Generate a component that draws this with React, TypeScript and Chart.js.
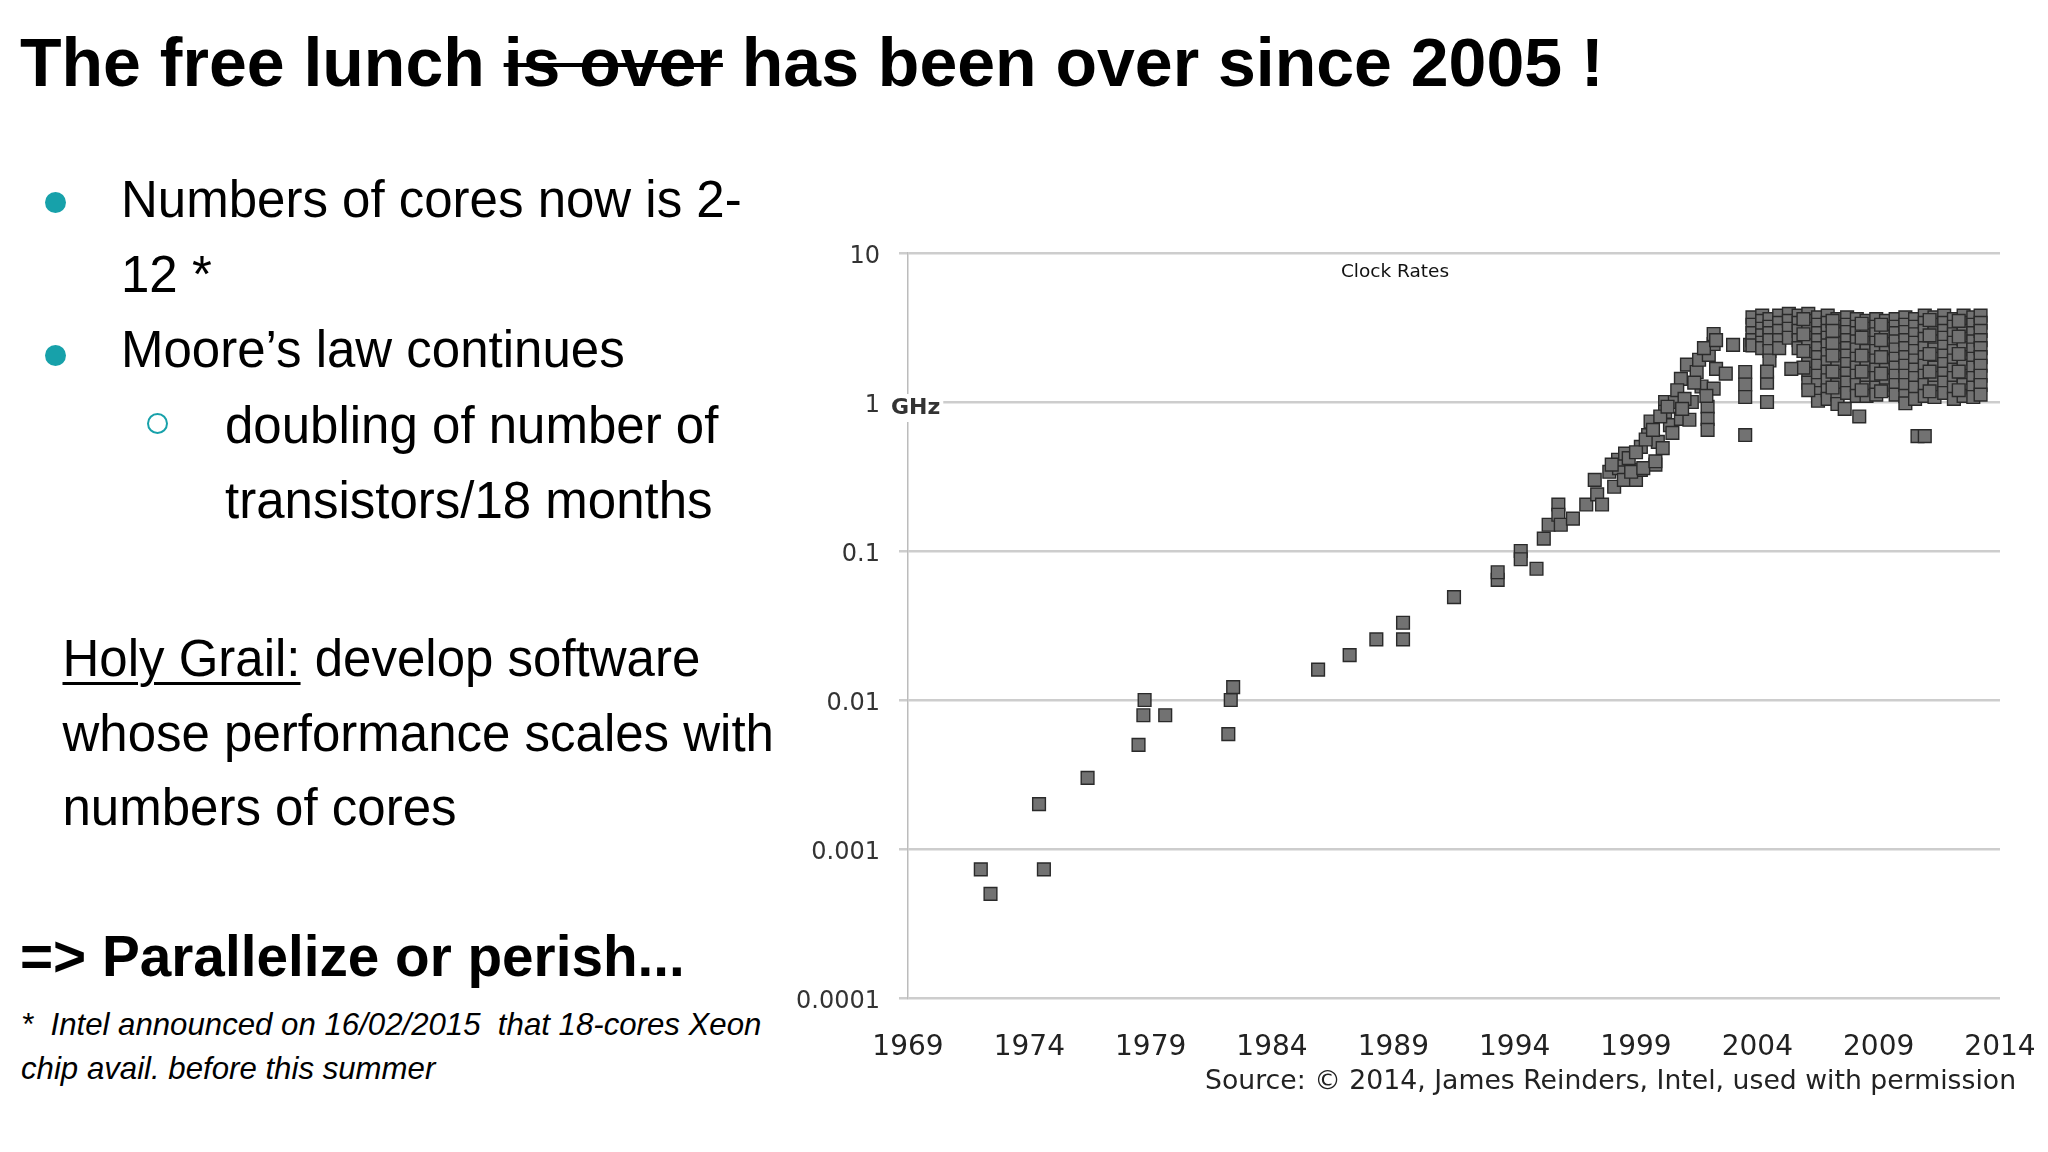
import React, { useEffect, useRef } from "react";
import { Chart, registerables } from "chart.js";

Chart.register(...registerables);

// ---------- chart data ----------
const xTickYears = [1969, 1974, 1979, 1984, 1989, 1994, 1999, 2004, 2009, 2014];
const yTickValues = [0.0001, 0.001, 0.01, 0.1, 1, 10];
const yTickLabels = ["0.0001", "0.001", "0.01", "0.1", "1", "10"];
const unitLabel = "GHz";
const chartTitle = "Clock Rates";
const sourceNote = "Source: \u00A9 2014, James Reinders, Intel, used with permission";

// [year, clock rate in GHz]
const earlyChips: [number, number][] = [
  [1972.0, 0.00073], [1972.4, 0.0005], [1974.4, 0.002], [1974.6, 0.00073],
  [1976.4, 0.003], [1978.5, 0.005], [1978.7, 0.0079], [1978.75, 0.01],
  [1979.6, 0.0079], [1982.2, 0.0059], [1982.3, 0.01], [1982.4, 0.0122],
  [1985.9, 0.016], [1987.2, 0.02], [1988.3, 0.0255], [1989.4, 0.0255],
  [1989.4, 0.033], [1991.5, 0.049], [1993.3, 0.064], [1993.3, 0.072],
];

const riseChips: [number, number][] = [
  [1994.25, 0.1], [1994.25, 0.088], [1994.9, 0.076], [1995.2, 0.121], [1995.4, 0.15],
  [1995.8, 0.205], [1995.8, 0.175], [1995.9, 0.15], [1996.4, 0.165], [1996.95, 0.205],
  [1997.3, 0.3], [1997.4, 0.24], [1997.6, 0.205], [1997.9, 0.34], [1998.1, 0.27],
  [1998.3, 0.36], [1998.5, 0.3], [1999.0, 0.3], [1999.2, 0.35], [1999.8, 0.38],
  [1998.26, 0.41], [1998.55, 0.45], [1998.8, 0.34], [1999.2, 0.5], [1999.3, 0.36],
  [1999.5, 0.6], [1999.6, 0.74], [1999.8, 0.4], [1999.9, 0.54], [2000.1, 0.49],
  [2000.2, 1.0], [2000.2, 0.86], [2000.4, 0.7], [2000.6, 1.0], [2000.85, 1.43],
  [2000.85, 0.77], [2001.2, 0.76], [2001.1, 1.78], [2001.3, 1.0], [2001.5, 1.59],
  [2001.6, 1.92], [2001.7, 1.27], [2001.95, 0.93], [2001.95, 0.77], [2001.95, 0.65],
  [2002.0, 2.07], [2002.2, 1.23], [2002.2, 2.45], [2002.2, 2.86], [2002.3, 1.67],
  [2002.7, 1.55], [2003.0, 2.42], [2003.5, 1.59], [2003.5, 1.31], [2003.5, 1.08],
  [2003.5, 0.6], [2003.7, 2.42], [1998.0, 0.38], [1998.7, 0.42], [1999.0, 0.46],
  [1999.4, 0.56], [1999.7, 0.65], [2000.0, 0.8], [2000.3, 0.93], [2000.5, 0.62],
  [2000.7, 1.2], [2001.0, 1.05], [2001.4, 1.35], [2001.8, 2.3], [2002.3, 2.6],
  [2001.9, 1.1], [2000.9, 0.9],
];

const clusterYears = [
  2003.8, 2004.2, 2004.5, 2004.9, 2005.3, 2005.7, 2006.1, 2006.5, 2006.9, 2007.3,
  2007.7, 2008.1, 2008.5, 2008.9, 2009.3, 2009.7, 2010.1, 2010.5, 2010.9, 2011.3,
  2011.7, 2012.1, 2012.5, 2012.9, 2013.2,
  2005.9, 2007.1, 2008.3, 2009.1, 2011.1, 2012.3,
];
const clusterClocks: number[][] = [
  [3.7, 3.3, 2.9, 2.6, 2.4],
  [3.8, 3.5, 3.1, 2.8, 2.5, 2.3],
  [3.6, 3.2, 2.9, 2.6, 2.2, 1.9],
  [3.8, 3.4, 3.0, 2.6, 2.3],
  [3.9, 3.5, 3.1, 2.7],
  [3.8, 3.4, 3.0, 2.6, 2.3],
  [3.9, 3.5, 3.1, 2.7, 2.4, 2.1, 1.8, 1.55, 1.35],
  [3.7, 3.3, 2.9, 2.6, 2.3, 2.0, 1.75, 1.5, 1.3, 1.15, 1.02],
  [3.8, 3.4, 3.0, 2.7, 2.4, 2.1, 1.85, 1.6, 1.4, 1.2, 1.05],
  [3.6, 3.2, 2.85, 2.5, 2.25, 2.0, 1.75, 1.5, 1.3, 1.12, 0.97],
  [3.7, 3.3, 2.95, 2.6, 2.3, 2.05, 1.8, 1.55, 1.35, 1.15],
  [3.6, 3.2, 2.9, 2.55, 2.25, 1.95, 1.7, 1.5, 1.3, 1.1],
  [3.5, 3.1, 2.8, 2.5, 2.2, 1.95, 1.7, 1.45, 1.25, 1.1],
  [3.6, 3.2, 2.85, 2.5, 2.2, 1.9, 1.65, 1.45, 1.25, 1.12],
  [3.5, 3.1, 2.75, 2.45, 2.15, 1.9, 1.65, 1.4, 1.2],
  [3.6, 3.2, 2.9, 2.55, 2.25, 1.95, 1.7, 1.5, 1.3, 1.12],
  [3.7, 3.3, 2.95, 2.6, 2.3, 2.0, 1.75, 1.5, 1.3, 1.1, 0.98],
  [3.6, 3.2, 2.85, 2.5, 2.2, 1.9, 1.65, 1.45, 1.25, 1.05],
  [3.8, 3.4, 3.0, 2.65, 2.3, 2.0, 1.75, 1.5, 1.3, 1.1],
  [3.7, 3.3, 2.9, 2.55, 2.25, 1.95, 1.7, 1.45, 1.25, 1.08],
  [3.8, 3.4, 3.0, 2.7, 2.35, 2.05, 1.8, 1.55, 1.35, 1.15],
  [3.6, 3.2, 2.85, 2.5, 2.2, 1.9, 1.65, 1.45, 1.25, 1.05],
  [3.8, 3.4, 3.0, 2.65, 2.3, 2.0, 1.75, 1.5, 1.3, 1.1],
  [3.7, 3.3, 2.9, 2.55, 2.25, 1.95, 1.7, 1.45, 1.25, 1.08],
  [3.8, 3.4, 3.0, 2.6, 2.3, 2.0, 1.75, 1.5, 1.3, 1.12],
  [3.6, 2.85, 2.2, 1.7],
  [3.5, 3.0, 2.45, 2.05, 1.6, 1.25],
  [3.35, 2.7, 2.05, 1.6, 1.2],
  [3.3, 2.6, 2.0, 1.55, 1.18],
  [3.55, 2.8, 2.1, 1.6, 1.18],
  [3.5, 2.75, 2.1, 1.6, 1.2],
];

const lateOutliers: [number, number][] = [
  [2004.4, 1.0], [2004.4, 1.35], [2004.4, 1.6], [2005.4, 1.67], [2006.1, 1.2],
  [2007.6, 0.9], [2008.2, 0.8], [2010.6, 0.59], [2010.9, 0.59],
];

// ---------- page text ----------
const titleStart = "The free lunch ";
const titleStruck = "is over";
const titleEnd = " has been over since 2005 !";
const bulletLines = ["Numbers of cores now is 2-", "12 *", "Moore\u2019s law continues"];
const subBulletLines = ["doubling of number of", "transistors/18 months"];
const grailHead = "Holy Grail:";
const grailLines = [" develop software", "whose performance scales with", "numbers of cores"];
const conclusion = "=> Parallelize or perish...";
const footnoteLines = ["*  Intel announced on 16/02/2015  that 18-cores Xeon", "chip avail. before this summer"];

const SANS = '"Liberation Sans", Arial, Helvetica, sans-serif';
const CHART_FONT = '"DejaVu Sans", Verdana, sans-serif';
const TEAL = "#17a1aa";

function buildPoints() {
  const pts: { x: number; y: number }[] = [];
  earlyChips.forEach(([x, y]) => pts.push({ x, y }));
  riseChips.forEach(([x, y]) => pts.push({ x, y }));
  clusterYears.forEach((yr, i) => clusterClocks[i].forEach((v) => pts.push({ x: yr, y: v })));
  lateOutliers.forEach(([x, y]) => pts.push({ x, y }));
  return pts;
}

const annotationPlugin = {
  id: "clockAnnotations",
  afterDraw(chart: any) {
    const { ctx, chartArea, scales } = chart;
    const y1 = scales.y.getPixelForValue(1);
    ctx.save();
    ctx.font = `bold 22px ${CHART_FONT}`;
    const w = ctx.measureText(unitLabel).width;
    const x0 = chartArea.left - 17;
    ctx.fillStyle = "#ffffff";
    ctx.fillRect(x0 - 3, y1 - 8, w + 6, 28);
    ctx.fillStyle = "#333333";
    ctx.textBaseline = "middle";
    ctx.textAlign = "left";
    ctx.fillText(unitLabel, x0, y1 + 6);
    ctx.font = `18.5px ${CHART_FONT}`;
    ctx.textAlign = "center";
    ctx.fillStyle = "#111111";
    ctx.fillText(chartTitle, chartArea.left + 487, chartArea.top + 19);
    ctx.restore();
  },
};

function ClockChart() {
  const ref = useRef<HTMLCanvasElement | null>(null);
  useEffect(() => {
    if (!ref.current) return;
    const chart = new Chart(ref.current, {
      type: "scatter",
      data: {
        datasets: [
          {
            data: buildPoints(),
            pointStyle: "rect",
            pointRadius: 9,
            pointHoverRadius: 9,
            backgroundColor: "#727272",
            borderColor: "#2a2a2a",
            borderWidth: 1.4,
          },
        ],
      },
      options: {
        animation: false,
        responsive: true,
        maintainAspectRatio: false,
        layout: { padding: { left: 0, top: 33, right: 48, bottom: 0 } },
        plugins: { legend: { display: false }, tooltip: { enabled: false }, title: { display: false } },
        scales: {
          x: {
            type: "linear",
            min: 1969,
            max: 2014,
            afterBuildTicks: (s: any) => {
              s.ticks = xTickYears.map((v) => ({ value: v }));
            },
            afterFit: (s: any) => {
              s.height = 102;
              s.paddingLeft = 0;
              s.paddingRight = 0;
            },
            ticks: {
              callback: (v: any) => String(v),
              font: { family: CHART_FONT, size: 28 },
              color: "#222222",
              padding: 33,
              maxRotation: 0,
              autoSkip: false,
            },
            grid: { display: false, drawTicks: false },
            border: { display: false },
          },
          y: {
            type: "logarithmic",
            min: 0.0001,
            max: 10,
            afterBuildTicks: (s: any) => {
              s.ticks = yTickValues.map((v) => ({ value: v }));
            },
            afterFit: (s: any) => {
              s.width = 148;
              s.paddingTop = 0;
              s.paddingBottom = 0;
            },
            ticks: {
              callback: (_v: any, i: number) => yTickLabels[i],
              font: { family: CHART_FONT, size: 24 },
              color: "#333333",
              padding: 19,
              labelOffset: 4,
              autoSkip: false,
            },
            grid: {
              color: "#cdcdcd",
              lineWidth: 2.5,
              drawTicks: true,
              tickLength: 9,
              tickColor: "#cdcdcd",
            },
            border: { display: true, color: "#bcbcbc", width: 1.5 },
          },
        },
      },
      plugins: [annotationPlugin],
    } as any);
    return () => chart.destroy();
  }, []);
  return <canvas ref={ref} style={{ display: "block", width: "100%", height: "100%" }} />;
}

function Line(props: { top: number; left: number; size: number; children: React.ReactNode; style?: React.CSSProperties }) {
  return (
    <div
      style={{
        position: "absolute",
        top: props.top,
        left: props.left,
        fontSize: props.size,
        lineHeight: `${props.size}px`,
        whiteSpace: "pre",
        fontFamily: SANS,
        color: "#000",
        ...props.style,
      }}
    >
      {props.children}
    </div>
  );
}

export default function App() {
  const bulletTops = [173.8, 248.8, 324.3];
  const subTops = [399.8, 475.3];
  const grailTops = [632.8, 707.8, 782.3];
  return (
    <div style={{ position: "absolute", left: 0, top: 0, width: 2048, height: 1152, background: "#fff", overflow: "hidden" }}>
      <Line top={28.4} left={20} size={68} style={{ fontWeight: "bold" }}>
        {titleStart}
        <span style={{ textDecoration: "line-through", textDecorationThickness: "4px" }}>{titleStruck}</span>
        {titleEnd}
      </Line>

      {/* bullets */}
      <div style={{ position: "absolute", left: 44.5, top: 192, width: 21, height: 21, borderRadius: "50%", background: TEAL }} />
      <div style={{ position: "absolute", left: 44.5, top: 344.5, width: 21, height: 21, borderRadius: "50%", background: TEAL }} />
      <div style={{ position: "absolute", left: 147, top: 413, width: 17, height: 17, borderRadius: "50%", border: `2.5px solid ${TEAL}` }} />

      {bulletLines.map((t, i) => (
        <Line key={"b" + i} top={bulletTops[i]} left={121} size={51}>{t}</Line>
      ))}
      {subBulletLines.map((t, i) => (
        <Line key={"s" + i} top={subTops[i]} left={225} size={51}>{t}</Line>
      ))}

      <Line top={grailTops[0]} left={62.5} size={51}>
        <span style={{ textDecoration: "underline", textUnderlineOffset: "6px", textDecorationThickness: "3px" }}>{grailHead}</span>
        {grailLines[0]}
      </Line>
      <Line top={grailTops[1]} left={62.5} size={51}>{grailLines[1]}</Line>
      <Line top={grailTops[2]} left={62.5} size={51}>{grailLines[2]}</Line>

      <Line top={928.7} left={20} size={56.7} style={{ fontWeight: "bold" }}>{conclusion}</Line>

      <Line top={1008.8} left={21} size={31.2} style={{ fontStyle: "italic" }}>{footnoteLines[0]}</Line>
      <Line top={1052.8} left={21} size={31.2} style={{ fontStyle: "italic" }}>{footnoteLines[1]}</Line>

      <div style={{ position: "absolute", left: 760, top: 220, width: 1288, height: 880 }}>
        <ClockChart />
      </div>

      <div
        style={{
          position: "absolute",
          left: 1205,
          top: 1067,
          fontSize: 26.7,
          lineHeight: "26.7px",
          fontFamily: CHART_FONT,
          color: "#222",
          whiteSpace: "pre",
        }}
      >
        {sourceNote}
      </div>
    </div>
  );
}
